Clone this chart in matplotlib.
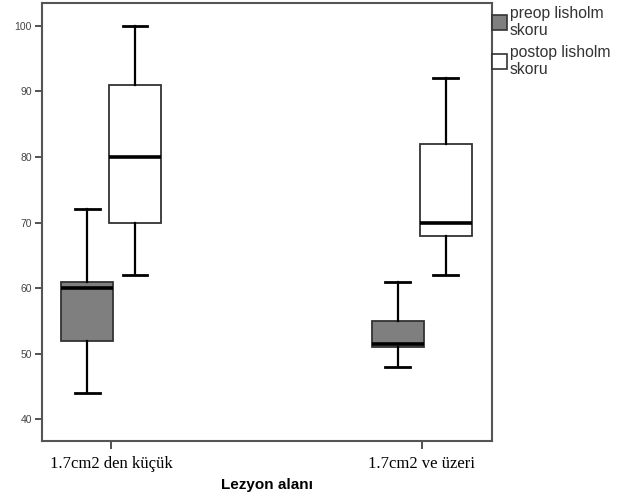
import matplotlib.pyplot as plt
from matplotlib.patches import Patch

groups = ['1.7cm2 den küçük', '1.7cm2 ve üzeri']
series = ['preop lisholm\nskoru', 'postop lisholm\nskoru']

# box stats: min, q1, median, q3, max per group
preop_min = [44, 48]
preop_q1 = [52, 51]
preop_med = [60, 51.5]
preop_q3 = [61, 55]
preop_max = [72, 61]

postop_min = [62, 62]
postop_q1 = [70, 68]
postop_med = [80, 70]
postop_q3 = [91, 82]
postop_max = [100, 92]

fills = ['#7f7f7f', '#ffffff']
yticks = [40, 50, 60, 70, 80, 90, 100]

plt.rcParams['font.family'] = ['Liberation Sans', 'DejaVu Sans']

fig = plt.figure(figsize=(6.32, 5.01), dpi=100)
ax = fig.add_axes([0.066, 0.12, 0.713, 0.874])

offset = 0.077
width = 0.167
stats_sets = [
    (preop_min, preop_q1, preop_med, preop_q3, preop_max),
    (postop_min, postop_q1, postop_med, postop_q3, postop_max),
]
for k, (mn, q1, md, q3, mx) in enumerate(stats_sets):
    stats = []
    for i in range(len(groups)):
        stats.append(dict(whislo=mn[i], q1=q1[i], med=md[i], q3=q3[i],
                          whishi=mx[i], fliers=[]))
    pos = [i + (2 * k - 1) * offset for i in range(len(groups))]
    ax.bxp(stats, positions=pos, widths=width, showfliers=False,
           patch_artist=True, capwidths=0.08,
           boxprops=dict(facecolor=fills[k], edgecolor='#333333', linewidth=1.3),
           medianprops=dict(color='black', linewidth=2.6),
           whiskerprops=dict(color='black', linewidth=1.6),
           capprops=dict(color='black', linewidth=2.0))

ax.set_xlim(-0.223, 1.227)
ax.set_ylim(36.7, 103.5)
ax.set_xticks(range(len(groups)))
ax.set_xticklabels(groups, family='Liberation Serif', fontsize=12)
ax.set_yticks(yticks)
ax.set_yticklabels([str(v) for v in yticks], fontsize=7.5, color='#444444')
ax.tick_params(axis='x', length=6, width=1.3, color='#444444', pad=5)
ax.tick_params(axis='y', length=5, width=1.3, color='#444444', pad=2)
for s in ax.spines.values():
    s.set_color('#555555')
    s.set_linewidth(1.5)

ax.set_xlabel('Lezyon alanı', fontsize=11, fontweight='bold', labelpad=4)

handles = [Patch(facecolor=fills[k], edgecolor='#333333', linewidth=1.2)
           for k in range(2)]
leg = ax.legend(handles, series, loc='upper left', bbox_to_anchor=(0.999, 0.993),
                frameon=False, fontsize=11.3, handlelength=0.95, handleheight=1.1,
                handletextpad=0.2, borderaxespad=0, labelspacing=0.45,
                borderpad=0)
for t in leg.get_texts():
    t.set_linespacing(1.15)
    t.set_color('#333333')

fig.savefig('out.png', dpi=100)
